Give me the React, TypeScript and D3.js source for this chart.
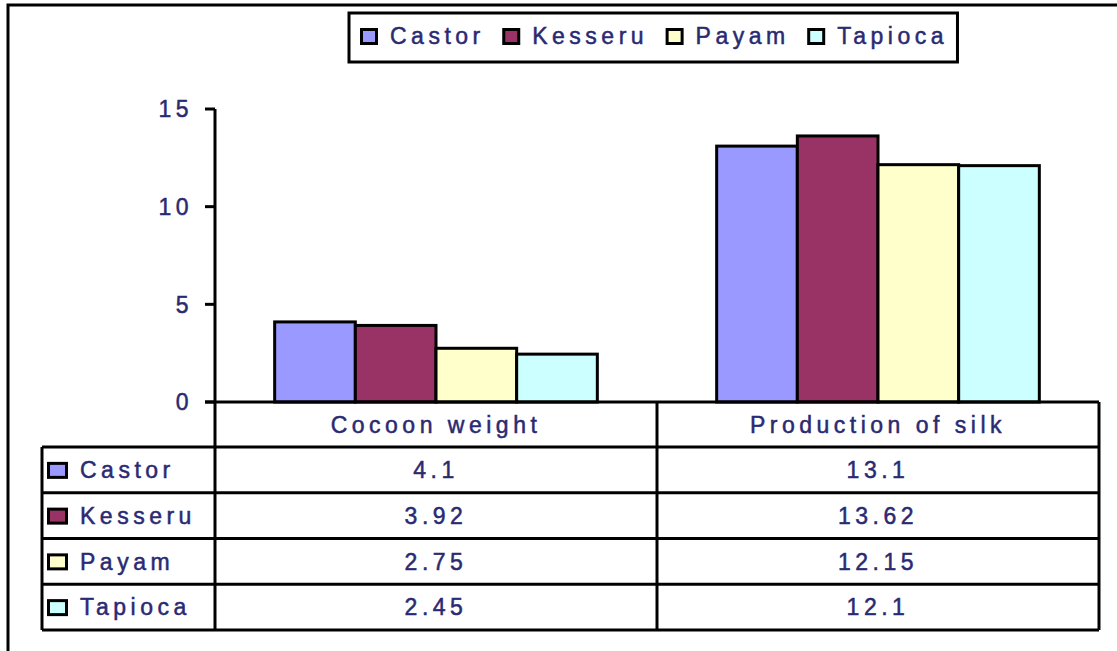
import * as d3 from "d3";

const categories = ["Cocoon weight", "Production of silk"];
const seriesNames = ["Castor", "Kesseru", "Payam", "Tapioca"];
const castorValues = [4.1, 13.1];
const kesseruValues = [3.92, 13.62];
const payamValues = [2.75, 12.15];
const tapiocaValues = [2.45, 12.1];
const seriesValues = [castorValues, kesseruValues, payamValues, tapiocaValues];
const tableLabels = [
  ["4.1", "13.1"],
  ["3.92", "13.62"],
  ["2.75", "12.15"],
  ["2.45", "12.1"],
];
const yTicks = [0, 5, 10, 15];
const seriesColors = ["#9999FF", "#993366", "#FFFFCC", "#CCFFFF"];

const FONT = "'Liberation Sans', Arial, sans-serif";
const FS = 23;
const LS = 4.5;
const TEXT = "#2a2a72";
const SW = 3;

// rough text width incl. letter spacing
let ctx: CanvasRenderingContext2D | null = null;
const measure = (s: string) => {
  if (!ctx) ctx = document.createElement("canvas").getContext("2d");
  if (!ctx) return s.length * 15;
  ctx.font = `${FS}px ${FONT}`;
  return ctx.measureText(s).width + (s.length - 1) * LS;
};

const App = () => {
  const width = 1117;
  const height = 651;

  const plotLeft = 215;
  const plotRight = 1099;
  const yTop = 109;
  const yZero = 402;
  const headerBottom = 447;
  const tableBottom = 630;
  const tableLeft = 42;

  const y = d3.scaleLinear().domain([0, 15]).range([yZero, yTop]);
  const x0 = d3.scaleBand().domain(categories).range([plotLeft, plotRight]);
  const bw = x0.bandwidth();
  const x1 = d3.scaleBand().domain(seriesNames).range([bw * 0.135, bw * 0.865]);
  const rowY = d3.scaleBand().domain(seriesNames).range([headerBottom, tableBottom]);

  // legend layout
  const legendStart = 360;
  let cursor = legendStart;
  const legendItems = seriesNames.map((name, i) => {
    const item = { name, color: seriesColors[i], x: cursor };
    cursor += 30 + measure(name) + 22;
    return item;
  });
  const legendRight = cursor - 8;

  const textProps = {
    fontFamily: FONT,
    fontSize: FS,
    letterSpacing: LS,
    fill: TEXT,
    stroke: TEXT,
    strokeWidth: 0.5,
  };

  return (
    <svg
      width={width}
      height={height}
      viewBox={`0 0 ${width} ${height}`}
      style={{ position: "absolute", left: 0, top: 0, background: "#fff" }}
    >
      <rect x={0} y={0} width={width} height={height} fill="#fff" />
      {/* outer frame */}
      <path d={`M8,${height} V5 H${width}`} fill="none" stroke="#000" strokeWidth={SW} />

      {/* legend */}
      <rect x={349} y={13} width={legendRight - 349} height={49} fill="#fff" stroke="#000" strokeWidth={SW} />
      {legendItems.map((d) => (
        <g key={d.name}>
          <rect x={d.x + 1.5} y={29.5} width={15} height={14} fill={d.color} stroke="#000" strokeWidth={SW} />
          <text x={d.x + 30} y={36} dy="0.36em" {...textProps}>
            {d.name}
          </text>
        </g>
      ))}

      {/* y axis ticks */}
      {yTicks.map((t) => (
        <g key={t} transform={`translate(0, ${y(t)})`}>
          <line x1={205} x2={plotLeft} stroke="#000" strokeWidth={SW} />
          <text x={193} dy="0.36em" textAnchor="end" {...textProps}>
            {t}
          </text>
        </g>
      ))}

      {/* bars */}
      {categories.map((c, ci) => (
        <g key={c} transform={`translate(${x0(c)}, 0)`}>
          {seriesNames.map((s, si) => {
            const v = seriesValues[si][ci];
            return (
              <rect
                key={s}
                x={x1(s)}
                y={y(v)}
                width={x1.bandwidth()}
                height={yZero - y(v)}
                fill={seriesColors[si]}
                stroke="#000"
                strokeWidth={SW}
              />
            );
          })}
        </g>
      ))}

      {/* axis line + zero line */}
      <line x1={plotLeft} x2={plotLeft} y1={yTop} y2={tableBottom} stroke="#000" strokeWidth={SW} />
      <line x1={205} x2={plotRight} y1={yZero} y2={yZero} stroke="#000" strokeWidth={SW} />

      {/* data table */}
      {categories.map((c) => (
        <g key={c}>
          <line x1={(x0(c) ?? 0) + bw} x2={(x0(c) ?? 0) + bw} y1={yZero} y2={tableBottom} stroke="#000" strokeWidth={SW} />
          <text x={(x0(c) ?? 0) + bw / 2} y={(yZero + headerBottom) / 2} dy="0.36em" textAnchor="middle" {...textProps}>
            {c}
          </text>
        </g>
      ))}
      <line x1={tableLeft} x2={tableLeft} y1={headerBottom} y2={tableBottom} stroke="#000" strokeWidth={SW} />
      {seriesNames.map((s) => (
        <line
          key={s}
          x1={tableLeft}
          x2={plotRight}
          y1={rowY(s)}
          y2={rowY(s)}
          stroke="#000"
          strokeWidth={SW}
        />
      ))}
      <line x1={tableLeft} x2={plotRight} y1={tableBottom} y2={tableBottom} stroke="#000" strokeWidth={SW} />
      {seriesNames.map((s, si) => {
        const cy = (rowY(s) ?? 0) + rowY.bandwidth() / 2;
        return (
          <g key={s}>
            <rect x={48.5} y={cy - 6.5} width={18} height={14} fill={seriesColors[si]} stroke="#000" strokeWidth={SW} />
            <text x={80} y={cy} dy="0.36em" {...textProps}>
              {s}
            </text>
            {categories.map((c, ci) => (
              <text
                key={c}
                x={(x0(c) ?? 0) + bw / 2}
                y={cy}
                dy="0.36em"
                textAnchor="middle"
                {...textProps}
              >
                {tableLabels[si][ci]}
              </text>
            ))}
          </g>
        );
      })}
    </svg>
  );
};

export default App;
